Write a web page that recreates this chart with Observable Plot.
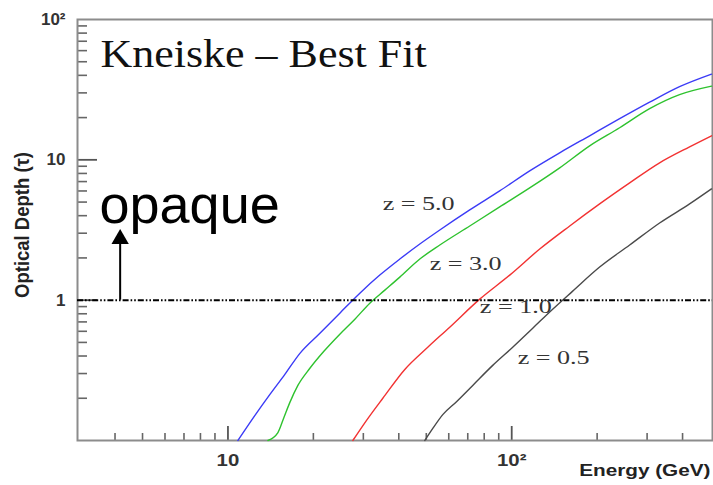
<!DOCTYPE html>
<html><head><meta charset="utf-8">
<script src="https://cdn.jsdelivr.net/npm/d3@7"></script>
<script src="https://cdn.jsdelivr.net/npm/@observablehq/plot@0.6"></script>
<style>
body{margin:0;background:#fff}
#chart svg{display:block;background:#fff}
</style></head><body><div id="chart"></div>
<script>
// ---- data ----
const title = "Kneiske \u2013 Best Fit";
const xTitle = "Energy (GeV)";
const yTitle = "Optical Depth (\u03c4)";
const opaqueText = "opaque";
const redshifts = ["5.0", "3.0", "1.0", "0.5"];
const zLabels = ["z = 5.0", "z = 3.0", "z = 1.0", "z = 0.5"];
const zLabelEnergy = [35.1, 51.4, 77.2, 105];
const zLabelTau = [4.85, 1.81, 0.89, 0.385];

const z5Energy = [10.84, 12.45, 14.06, 15.87, 17.93, 21.09, 24.79, 29.16, 34.29, 40.33, 47.44, 55.79, 71.14, 90.7, 115.7, 147.6, 188.2, 240.1, 306.2, 390.4, 506];
const z5Tau    = [0.1, 0.151, 0.213, 0.296, 0.418, 0.581, 0.808, 1.122, 1.509, 1.963, 2.512, 3.162, 4.395, 6.005, 8.345, 11.22, 14.84, 19.63, 25.74, 33.2, 40.8];
const z3Energy = [13.83, 15.0, 15.75, 16.53, 17.64, 19.44, 21.78, 24.79, 28.01, 31.62, 35.72, 40.33, 47.44, 55.79, 71.14, 90.7, 115.7, 147.6, 188.2, 240.1, 306.2, 390.4, 506];
const z3Tau    = [0.1, 0.114, 0.146, 0.187, 0.247, 0.327, 0.432, 0.572, 0.732, 0.952, 1.179, 1.46, 1.963, 2.471, 3.378, 4.617, 6.31, 8.77, 12.59, 16.93, 23.14, 29.13, 33.5];
const z1Energy = [27.55, 30.62, 35.14, 42.0, 50.6, 60.48, 77.15, 98.4, 125.5, 160.1, 204.1, 260.4, 332.0, 423.5, 506];
const z1Tau    = [0.1, 0.137, 0.2, 0.321, 0.462, 0.642, 1.017, 1.509, 2.313, 3.378, 4.851, 6.849, 9.52, 12.38, 14.84];
const z05Energy = [49.39, 52.71, 57.15, 64.02, 72.89, 85.72, 100.8, 118.6, 139.4, 164.0, 204.1, 260.4, 332.0, 423.5, 506];
const z05Tau    = [0.1, 0.122, 0.153, 0.19, 0.247, 0.343, 0.462, 0.631, 0.862, 1.16, 1.721, 2.471, 3.548, 4.851, 6.209];

const opaqueLevel = 1;
const arrowEnergy = 4.17;
const arrowHeadBase = 2.51;
const arrowHeadCenter = 2.73;

const energyDomain = [2.95, 510];
const tauDomain = [0.1, 100];
const tauMajor = [1, 10];
const tauMinor = [0.2, 0.3, 0.4, 0.5, 0.6, 0.7, 0.8, 0.9, 2, 3, 4, 5, 6, 7, 8, 9, 20, 30, 40, 50, 60, 70, 80, 90];
const tauTickLabels = [1, 10, 100];
const energyMajor = [10, 100];
const energyMinor = [4, 5, 6, 7, 8, 9, 20, 30, 40, 50, 60, 70, 80, 90, 200, 300, 400];
const energyTickLabels = [10, 100];

// ---- build ----
const energies = [z5Energy, z3Energy, z1Energy, z05Energy];
const taus = [z5Tau, z3Tau, z1Tau, z05Tau];
const rows = redshifts.flatMap((z, i) => energies[i].map((e, j) => ({z, E: e, tau: taus[i][j]})));
const labelRows = zLabels.map((t, i) => ({t, E: zLabelEnergy[i], tau: zLabelTau[i]}));
const fmt = d => d === 100 ? "10\u00b2" : String(d);

const W = 713, H = 485, mL = 77, mR = 1, mT = 19, mB = 45;
const pw = W - mL - mR, ph = H - mT - mB;
const serif = "Liberation Serif, Times New Roman, serif";
const sans = "Liberation Sans, Arial, sans-serif";

const svg = Plot.plot({
  width: W, height: H,
  marginLeft: mL, marginRight: mR, marginTop: mT, marginBottom: mB,
  x: {type: "log", domain: energyDomain},
  y: {type: "log", domain: tauDomain},
  color: {domain: redshifts, range: ["#3b3bf6", "#2ec22e", "#f23232", "#4a4a4a"]},
  marks: [
    Plot.ruleY(tauMinor, {stroke: "#666", strokeWidth: 1.6, insetRight: pw - 10}),
    Plot.ruleY(tauMajor, {stroke: "#555", strokeWidth: 1.8, insetRight: pw - 20}),
    Plot.ruleX(energyMinor, {stroke: "#666", strokeWidth: 1.6, insetTop: ph - 7}),
    Plot.ruleX(energyMajor, {stroke: "#555", strokeWidth: 1.8, insetTop: ph - 14}),
    Plot.frame({stroke: "#8c8c8c", strokeWidth: 2}),
    Plot.axisY({ticks: tauTickLabels, tickFormat: fmt, tickSize: 0, tickPadding: 12, label: null,
      fontSize: 17, fontWeight: "bold", fontFamily: sans, fill: "#333"}),
    Plot.axisX({ticks: energyTickLabels, tickFormat: fmt, tickSize: 0, tickPadding: 13, label: null,
      fontSize: 17, fontWeight: "bold", fontFamily: sans, fill: "#333"}),
    Plot.line(rows, {x: "E", y: "tau", z: "z", stroke: "z", strokeWidth: 1.4, curve: "monotone-x"}),
    Plot.ruleY([opaqueLevel], {stroke: "#000", strokeWidth: 2, strokeDasharray: "6,2,1.6,2,1.6,2"}),
    Plot.ruleX([arrowEnergy], {y1: opaqueLevel, y2: arrowHeadBase, stroke: "#000", strokeWidth: 2}),
    Plot.dot([arrowEnergy], {x: d => d, y: arrowHeadCenter, symbol: "triangle", r: 6.43, fill: "#000", stroke: "none"}),
    Plot.text(labelRows, {x: "E", y: "tau", text: "t", textAnchor: "start", lineAnchor: "middle",
      fontFamily: serif, fontSize: 18, fill: "#333"}),
    Plot.text([title], {frameAnchor: "top-left", text: d => d, textAnchor: "start", lineAnchor: "top", dx: 23, dy: 19,
      fontFamily: serif, fontSize: 40, fill: "#111"}),
    Plot.text([opaqueText], {frameAnchor: "top-left", text: d => d, textAnchor: "start", lineAnchor: "top", dx: 22, dy: 165,
      fontFamily: sans, fontSize: 54, fill: "#000"}),
    Plot.text([xTitle], {frameAnchor: "bottom-right", text: d => d, textAnchor: "end", lineAnchor: "middle", dx: -2, dy: 30,
      fontFamily: sans, fontSize: 17, fontWeight: "bold", fill: "#222"}),
    Plot.text([yTitle], {frameAnchor: "left", text: d => d, rotate: -90, textAnchor: "middle", lineAnchor: "middle", dx: -55, dy: -5,
      fontFamily: sans, fontSize: 18.5, fontWeight: "bold", fill: "#222"})
  ]
});

function stretch(g, sx, sy) {
  if (!g) return;
  g.querySelectorAll("text").forEach(t => {
    const tr = t.getAttribute("transform") || "";
    t.setAttribute("transform", `${tr} scale(${sx},${sy})`);
  });
}
const textGroups = svg.querySelectorAll('g[aria-label="text"]');
stretch(textGroups[0], 1.45, 1);
stretch(textGroups[1], 1.1, 1);
stretch(textGroups[3], 1.22, 1);
stretch(textGroups[4], 1, 1.1);
stretch(svg.querySelector('g[aria-label="x-axis tick label"]'), 1.2, 1);
document.getElementById("chart").appendChild(svg);
</script></body></html>
